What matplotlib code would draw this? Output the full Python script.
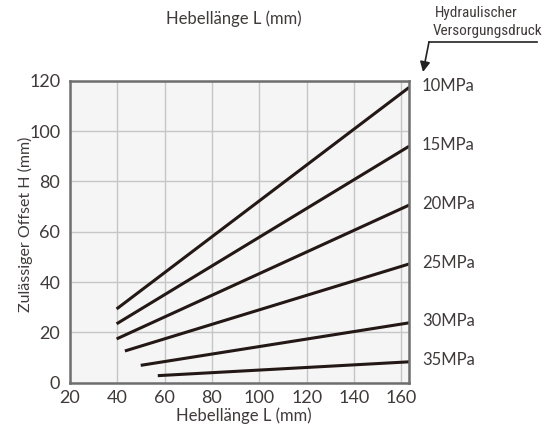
import matplotlib
matplotlib.use("Agg")
import matplotlib.pyplot as plt
from matplotlib import font_manager

# Pressure curves: permissible offset H vs lever length L
pressures = ["10MPa", "15MPa", "20MPa", "25MPa", "30MPa", "35MPa"]
L_start = [39.7, 39.7, 39.7, 43.2, 49.9, 57.1]
L_end = [163.4, 163.4, 163.4, 163.4, 163.4, 163.4]
H_start = [29.3, 23.4, 17.4, 12.6, 6.9, 2.8]
H_end = [117.4, 94.0, 70.6, 47.2, 23.8, 8.3]

x_ticks = [20, 40, 60, 80, 100, 120, 140, 160]
y_ticks = [0, 20, 40, 60, 80, 100, 120]

names = {f.name for f in font_manager.fontManager.ttflist}
main_font = "Lato" if "Lato" in names else "DejaVu Sans"
narrow_font = "DejaVu Sans"
for cand in ["Liberation Sans Narrow", "Roboto Condensed", "Open Sans Condensed"]:
    if cand in names:
        narrow_font = cand
        break
plt.rcParams["font.family"] = [main_font, "DejaVu Sans"]

text_c = "#403a3a"
line_c = "#231815"

fig = plt.figure(figsize=(5.42, 4.30), dpi=100)
ax = fig.add_axes([70 / 542, 1 - 382.7 / 430, (409.3 - 70) / 542, (382.7 - 80.7) / 430])
ax.set_facecolor("#f5f5f5")
ax.set_xlim(20, 163.4)
ax.set_ylim(0, 120)
ax.set_xticks(x_ticks)
ax.set_yticks(y_ticks)
ax.grid(True, color="#c6c6c6", linewidth=1.0)
ax.set_axisbelow(True)
for s in ax.spines.values():
    s.set_color("#6e6e6e")
    s.set_linewidth(1.8)
ax.tick_params(length=0, labelsize=13, colors=text_c)
ax.tick_params(axis="y", pad=7)
ax.tick_params(axis="x", pad=5)

for name, x0, x1, y0, y1 in zip(pressures, L_start, L_end, H_start, H_end):
    ax.plot([x0, x1], [y0, y1], color=line_c, linewidth=2.2, solid_capstyle="butt", clip_on=False)
    ax.annotate(name, xy=(x1, y1), xytext=(9, 1), textcoords="offset points",
                va="center", ha="left", fontsize=12, color=text_c, annotation_clip=False)

ax.set_xlabel("Hebellänge L (mm)", fontsize=12, color=text_c)
ax.set_ylabel("Zulässiger Offset H (mm)", fontsize=11.5, color=text_c)
ax.xaxis.set_label_coords(0.513, -0.11)
ax.yaxis.set_label_coords(-0.130, 0.525)
ax.xaxis.label.set_va("center")
ax.yaxis.label.set_va("center")

fig.text(234 / 542, 1 - 19 / 430, "Hebellänge L (mm)", ha="center", va="center",
         fontsize=12, color=text_c)
fig.text(476 / 542, 1 - 13 / 430, "Hydraulischer", ha="center", va="center",
         fontsize=11, color=text_c, family=[narrow_font, "DejaVu Sans"])
fig.text(487 / 542, 1 - 31 / 430, "Versorgungsdruck", ha="center", va="center",
         fontsize=11, color=text_c, family=[narrow_font, "DejaVu Sans"])

# Pointer from the legend caption down to the pressure column
fig.add_artist(plt.Line2D([537 / 542, 429 / 542], [1 - 42 / 430, 1 - 42 / 430],
                          color="#222222", linewidth=1.2, transform=fig.transFigure))
fig.add_artist(matplotlib.patches.FancyArrowPatch(
    (429 / 542, 1 - 42 / 430), (423 / 542, 1 - 72 / 430),
    transform=fig.transFigure, arrowstyle="-|>,head_length=6,head_width=3",
    color="#222222", linewidth=1.2, shrinkA=0, shrinkB=0))

fig.savefig("out.png", dpi=100)
